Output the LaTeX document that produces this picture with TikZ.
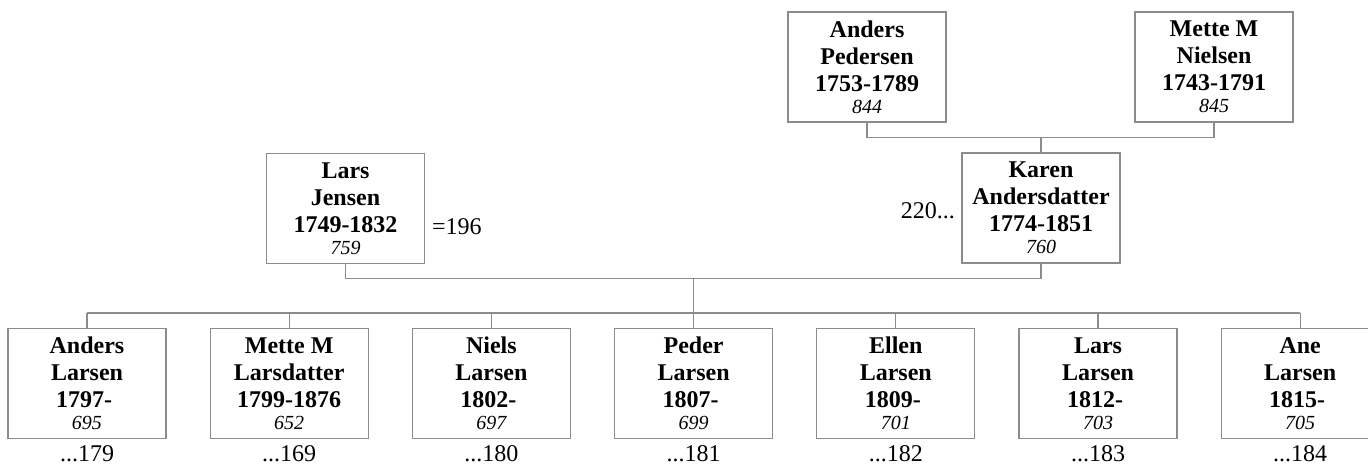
\documentclass[tikz,border=0pt]{standalone}
\usepackage{fontspec}
\setmainfont{Liberation Serif}
\definecolor{linegray}{RGB}{140,140,140}
\newcommand\personid[1]{\\[-5pt]{\mdseries\itshape\fontsize{20}{22}\selectfont #1}}
\newcommand\trail{\hphantom{\ }}
\begin{document}
\begin{tikzpicture}[x=1pt,y=-1pt,
  person/.style={draw=linegray, line width=1.2pt, minimum width=158pt, minimum height=110pt,
    inner sep=0pt, align=center, font=\fontsize{24}{27}\selectfont\bfseries},
  link/.style={draw=linegray, line width=1.2pt},
  note/.style={inner sep=0pt, font=\fontsize{24}{27}\selectfont}]
\useasboundingbox[fill=white] (0,0) rectangle (1368,464);

% grandparents
\node[person] (ap) at (867,67) {Anders\\Pedersen\\1753-1789\personid{844}};
\node[person] (mn) at (1214,67) {Mette M\\Nielsen\\1743-1791\personid{845}};
% parents
\node[person] (lj) at (345.5,208.5) {Lars\\Jensen\\1749-1832\personid{759}};
\node[person] (ka) at (1041,208) {Karen\\Andersdatter\\1774-1851\personid{760}};
\node[note, anchor=base west] (ljn) at (432,234) {=196};
\node[note, anchor=base east] (kan) at (955,218) {220...};

% children
\node[person] (c1) at (87,383.5) {Anders\\Larsen\\1797-\trail\personid{695}};
\node[person] (c2) at (289.2,383.5) {Mette M\\Larsdatter\\1799-1876\personid{652}};
\node[person] (c3) at (491.4,383.5) {Niels\\Larsen\\1802-\trail\personid{697}};
\node[person] (c4) at (693.6,383.5) {Peder\\Larsen\\1807-\trail\personid{699}};
\node[person] (c5) at (895.8,383.5) {Ellen\\Larsen\\1809-\trail\personid{701}};
\node[person] (c6) at (1098,383.5) {Lars\\Larsen\\1812-\trail\personid{703}};
\node[person] (c7) at (1300.2,383.5) {Ane\\Larsen\\1815-\trail\personid{705}};

\node[note, anchor=base] (n1) at (87,461) {...179};
\node[note, anchor=base] (n2) at (289.2,461) {...169};
\node[note, anchor=base] (n3) at (491.4,461) {...180};
\node[note, anchor=base] (n4) at (693.6,461) {...181};
\node[note, anchor=base] (n5) at (895.8,461) {...182};
\node[note, anchor=base] (n6) at (1098,461) {...183};
\node[note, anchor=base] (n7) at (1300.2,461) {...184};

% connectors
\coordinate (pj) at (1041,137.5);
\draw[link] (ap.south) |- (pj) -| (mn.south);
\draw[link] (pj) -- (ka.north);

\coordinate (cj) at (693.6,278.5);
\coordinate (cb) at (693.6,313);
\draw[link] (lj.south) |- (cj) -| (ka.south);
\draw[link] (cj) -- (cb);
\draw[link] (c1.north |- cb) -- (c7.north |- cb);
\foreach \c in {c1,c2,c3,c4,c5,c6,c7}{
  \draw[link] (\c.north |- cb) -- (\c.north);
}
\end{tikzpicture}
\end{document}
